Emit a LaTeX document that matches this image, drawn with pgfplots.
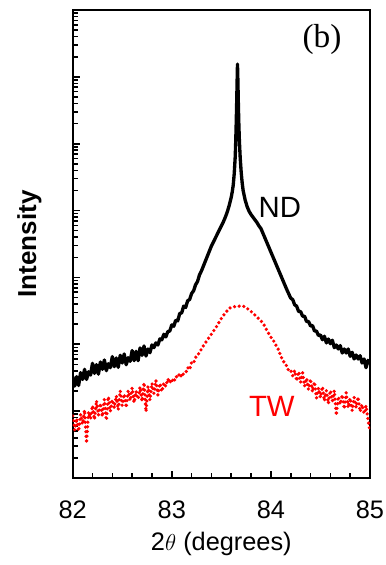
\documentclass[border=0pt]{standalone}
\usepackage{fontspec}
\setmainfont{Liberation Sans}
\newfontfamily\timesfont{Liberation Serif}
\usepackage{pgfplots}
\usepackage{pgfplotstable}
\pgfplotsset{compat=1.18}

\pgfplotstableread{
x y
82.00 32.8
82.02 23.7
82.04 32.8
82.06 24.2
82.08 37.6
82.10 29.8
82.12 42.2
82.14 29.8
82.16 38.9
82.18 34.6
82.20 51.9
82.22 36.7
82.24 49.6
82.26 35.8
82.28 54.4
82.30 42.2
82.32 58.3
82.34 40.3
82.36 51.3
82.38 44.6
82.40 65.4
82.42 46.2
82.44 62.4
82.46 45.2
82.48 68.5
82.50 52.5
82.52 71.7
82.54 49.5
82.56 63.1
82.58 55.6
82.60 80.5
82.62 56.9
82.64 78.5
82.66 56.9
82.68 88.2
82.70 68.3
82.72 94.4
82.74 66.8
82.76 85.1
82.78 74.9
82.80 97.7
82.82 89.1
82.84 105
82.86 97.7
82.88 120
82.90 117
82.92 141
82.94 129
82.96 155
82.98 158
83.00 195
83.02 186
83.04 229
83.06 224
83.08 288
83.10 295
83.12 372
83.14 355
83.16 447
83.18 468
83.20 575
83.22 631
83.24 776
83.26 871
83.28 1096
83.30 1259
83.32 1493
83.34 1770
83.36 2099
83.38 2489
83.40 2951
83.42 3388
83.44 3890
83.46 4467
83.48 5129
83.50 5888
83.52 6761
83.54 7943
83.56 9550
83.58 12020
83.60 15850
83.61 19050
83.62 23990
83.63 35480
83.64 63100
83.645 104700
83.65 199500
83.655 416900
83.659 831800
83.663 1549000
83.667 891300
83.671 446700
83.676 213800
83.682 112200
83.69 63100
83.70 38020
83.71 26300
83.72 19950
83.74 14450
83.76 11480
83.78 9772
83.80 8710
83.82 7943
83.84 7244
83.86 6607
83.88 5888
83.90 5370
83.92 4571
83.94 3890
83.96 3311
83.98 2818
84.00 2399
84.02 2042
84.04 1738
84.06 1479
84.08 1259
84.10 1072
84.12 912
84.14 776
84.16 661
84.18 569
84.20 490
84.22 468
84.24 389
84.26 372
84.28 309
84.30 309
84.32 263
84.34 263
84.36 219
84.38 219
84.40 188
84.42 191
84.44 158
84.46 158
84.48 135
84.50 138
84.52 117
84.54 132
84.56 105
84.58 120
84.60 102
84.62 115
84.64 89.1
84.66 97.7
84.68 85.1
84.70 95.5
84.72 74.1
84.74 85.1
84.76 74.1
84.78 85.1
84.80 66.1
84.82 75.9
84.84 60.3
84.86 69.2
84.88 60.3
84.90 67.6
84.92 52.5
84.94 60.3
84.96 44.7
84.98 57.5
85.00 51.3
}\ndtable

\pgfplotstableread{
x y
82.00 8.5
82.02 5.2
82.04 7.8
82.06 5.0
82.08 9.0
82.10 6.4
82.12 10.4
82.14 3.31
82.16 9.8
82.18 7.7
82.20 12.1
82.22 7.5
82.24 14.4
82.26 8.7
82.28 13.1
82.30 8.3
82.32 15.0
82.34 7.31
82.36 16.5
82.38 9.9
82.40 14.8
82.42 11.2
82.44 17.0
82.46 10.5
82.48 20.1
82.50 12.1
82.52 18.0
82.54 11.3
82.56 20.2
82.58 14.3
82.60 22.3
82.62 13.4
82.64 19.9
82.66 15.1
82.68 23.0
82.70 14.0
82.72 26.7
82.74 9.77
82.76 23.5
82.78 14.6
82.80 26.2
82.82 18.4
82.84 28.8
82.86 17.4
82.88 26.0
82.90 19.6
82.92 26.4
82.94 23.4
82.96 30.3
82.98 26.5
83.00 30.3
83.02 27.1
83.04 33.2
83.06 31.6
83.08 36.8
83.10 32.3
83.12 36.8
83.14 37.1
83.16 44.9
83.18 41.7
83.20 54.1
83.22 52.6
83.24 63.8
83.26 66.1
83.28 78.5
83.30 84.1
83.32 95.7
83.34 105.7
83.36 116.7
83.38 128.8
83.40 142.2
83.42 157.0
83.44 173.4
83.46 192.8
83.48 216.3
83.50 242.7
83.52 268.5
83.54 292.4
83.56 318.4
83.58 346.7
83.60 354.0
83.62 360.6
83.64 368.1
83.66 371.5
83.68 371.5
83.70 371.5
83.72 371.5
83.74 362.2
83.76 343.6
83.78 326.6
83.80 309.7
83.82 291.7
83.84 272.9
83.86 255.3
83.88 238.8
83.90 223.4
83.92 208.9
83.94 183.7
83.96 161.4
83.98 143.2
84.00 128.2
84.02 114.8
84.04 107.6
84.06 88.9
84.08 82.4
84.10 65.2
84.12 59.6
84.14 50.1
84.16 47.9
84.18 39.8
84.20 40.7
84.22 33.9
84.24 40.7
84.26 28.2
84.28 39.0
84.30 27.0
84.32 37.4
84.34 23.6
84.36 31.1
84.38 21.0
84.40 30.3
84.42 19.4
84.44 27.4
84.46 15.7
84.48 22.2
84.50 16.0
84.52 23.3
84.54 14.2
84.56 20.3
84.58 13.0
84.60 20.4
84.62 14.2
84.64 20.3
84.66 8.65
84.68 16.6
84.70 12.6
84.72 17.6
84.74 10.8
84.76 18.9
84.78 11.3
84.80 15.7
84.82 10.2
84.84 16.1
84.86 11.3
84.88 16.3
84.90 9.8
84.92 12.6
84.94 9.1
84.96 12.1
84.98 7.41
85.00 5.01
}\twtable

\begin{document}
\begin{tikzpicture}
\path[use as bounding box] (-54.5pt,-65.25pt) rectangle (235pt,358.5pt);
\begin{axis}[
  at={(0pt,0pt)}, anchor=south west,
  width=223pt, height=351pt, scale only axis,
  xmin=82, xmax=85, ymin=1, ymax=1e7, ymode=log,
  xtick={82,83,84,85}, minor x tick num=4,
  ytick={1,10,100,1000,10000,100000,1000000,10000000},
  minor ytick={2,3,4,5,6,7,8,9,20,30,40,50,60,70,80,90,200,300,400,500,600,700,800,900,2000,3000,4000,5000,6000,7000,8000,9000,20000,30000,40000,50000,60000,70000,80000,90000,200000,300000,400000,500000,600000,700000,800000,900000,2000000,3000000,4000000,5000000,6000000,7000000,8000000,9000000},
  yticklabel=\empty,
  tick pos=left, tick align=inside,
  major tick length=5.5pt, minor tick length=3.8pt,
  tick style={black, line width=1.2pt},
  axis line style={line width=1.6pt},
  /pgf/number format/assume math mode=true,
  xticklabel style={font=\fontsize{19}{22}\selectfont, anchor=base, yshift=-30pt},
  xlabel={2$\theta$ (degrees)},
  xlabel style={font=\fontsize{19}{22}\selectfont, at={(axis description cs:0.5,0)}, anchor=base, yshift=-54pt},
  ylabel={Intensity},
  ylabel style={font=\fontsize{19.5}{22}\selectfont\bfseries, at={(axis description cs:-0.1233,0.5)}, anchor=base},
]
\addplot[black, line width=2.5pt, line join=round] table[x=x,y=y] {\ndtable};
\addplot[red, line width=2.7pt, line cap=round, dash pattern=on 0pt off 3.5pt] table[x=x,y=y] {\twtable};
\node[font=\timesfont\fontsize{25}{28}\selectfont] at (axis description cs:0.8386,0.936) {(b)};
\node[font=\fontsize{22}{26}\selectfont] at (axis description cs:0.697,0.579) {ND};
\node[font=\fontsize{22}{26}\selectfont, text=red] at (axis description cs:0.670,0.152) {TW};
\end{axis}
\end{tikzpicture}
\end{document}
